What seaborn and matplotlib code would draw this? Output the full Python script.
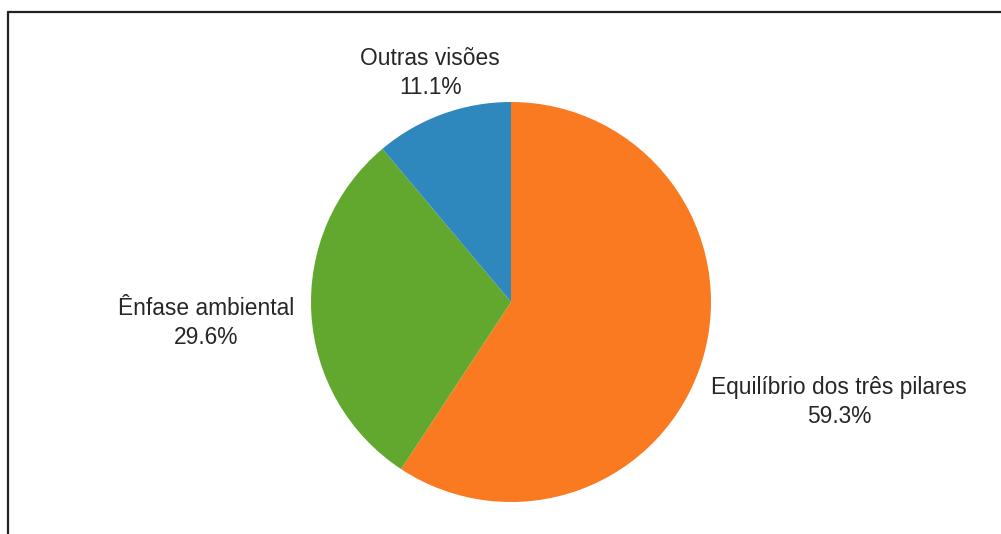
import matplotlib
matplotlib.use("Agg")
import matplotlib.pyplot as plt
from matplotlib.lines import Line2D
import seaborn as sns

# share of answers per view (n = 27)
categories = ["Equilíbrio dos três pilares", "Ênfase ambiental", "Outras visões"]
counts = [16, 8, 3]
colors = ["#F97A21", "#62A82F", "#2E88BD"]
# label anchor points, in pie-radius units
label_pos = [(1.64, -0.50), (-1.525, -0.105), (-0.405, 1.145)]

sns.set_theme(style="white")
plt.rcParams["font.family"] = ["Liberation Sans", "DejaVu Sans"]

fig = plt.figure(figsize=(10.01, 5.34), dpi=100)
ax = fig.add_axes([0, 0, 1, 1])

wedges, _ = ax.pie(counts, colors=colors, startangle=90, counterclock=False,
                   radius=1, wedgeprops={"linewidth": 0})

total = sum(counts)
for cat, n, (x, y) in zip(categories, counts, label_pos):
    ax.text(x, y, f"{cat}\n{100 * n / total:.1f}%", ha="center", va="center",
            multialignment="center", fontsize=16.4, color="#262626", linespacing=1.35)

ax.set_aspect("auto")
ax.set_xlim(-2.555, 2.45)
ax.set_ylim(-1.16, 1.51)
ax.axis("off")

# frame of the screenshot (top and left edges only)
fig.add_artist(Line2D([8 / 1001, 1], [1 - 11.5 / 534] * 2, color="#222222", lw=1.6,
                      transform=fig.transFigure))
fig.add_artist(Line2D([8 / 1001] * 2, [0, 1 - 11.5 / 534], color="#222222", lw=1.6,
                      transform=fig.transFigure))

fig.savefig("out.png", dpi=100)
